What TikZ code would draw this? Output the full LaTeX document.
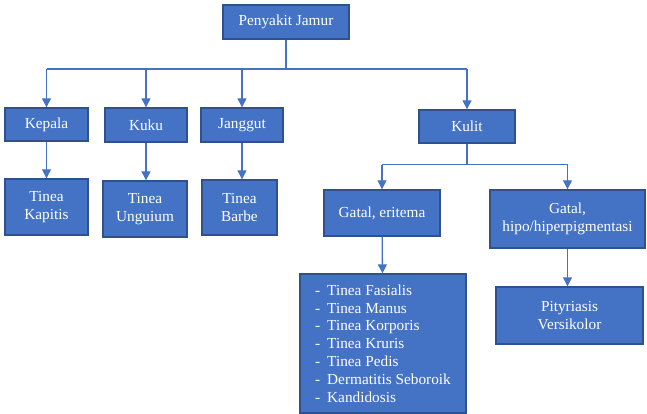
\documentclass[tikz,border=0pt]{standalone}
\usepackage{fontspec}
\setmainfont{Liberation Serif}
\usetikzlibrary{arrows.meta}
\definecolor{boxfill}{HTML}{4472C4}
\definecolor{boxline}{HTML}{2F528F}
\definecolor{linkcol}{HTML}{4472C4}
\newcommand{\itm}[1]{\makebox[12pt][l]{-}#1}
\begin{document}
\begin{tikzpicture}[x=1pt,y=-1pt,
  box/.style={draw=boxline, fill=boxfill, line width=1.4pt, text=white,
    inner sep=0pt, align=center,
    font=\fontsize{15.3}{17.8}\selectfont},
  link/.style={draw=linkcol, line width=1.3pt},
  arr/.style={link, -{Triangle[length=9pt,width=9pt]}}]
\useasboundingbox (0,0) rectangle (647,414);

% top level
\node[box, minimum width=126pt, minimum height=34pt] (root) at (286,22) {Penyakit Jamur};

% body parts
\node[box, minimum width=83pt, minimum height=33pt] (kepala) at (46.5,124.5) {Kepala};
\node[box, minimum width=82pt, minimum height=34pt] (kuku) at (146,125) {Kuku};
\node[box, minimum width=82pt, minimum height=34pt] (janggut) at (242,125) {Janggut};
\node[box, minimum width=96pt, minimum height=33pt] (kulit) at (467,126.5) {Kulit};

% head, nail, beard infections
\node[box, minimum width=83pt, minimum height=56pt] (kapitis) at (46.5,207) {Tinea\\Kapitis};
\node[box, minimum width=84pt, minimum height=56pt] (unguium) at (145,209) {Tinea\\Unguium};
\node[box, minimum width=75pt, minimum height=55pt] (barbe) at (239.5,207.5) {Tinea\\Barbe};

% skin symptoms
\node[box, minimum width=116pt, minimum height=46pt] (eritema) at (382,213) {Gatal, eritema};
\node[box, minimum width=155pt, minimum height=58pt] (hipo) at (567.5,219) {Gatal,\\hipo/hiperpigmentasi};

% skin infections
\node[box, minimum width=166pt, minimum height=139pt, align=left] (daftar) at (383,343.5)
  {\itm{Tinea Fasialis}\\\itm{Tinea Manus}\\\itm{Tinea Korporis}\\\itm{Tinea Kruris}\\
   \itm{Tinea Pedis}\\\itm{Dermatitis Seboroik}\\\itm{Kandidosis}};
\node[box, minimum width=147pt, minimum height=57pt] (pity) at (569.5,315.5) {Pityriasis\\Versikolor};

% branching from the root
\coordinate (busA) at (0,69);
\draw[link] (root.south) -- (root.south |- busA);
\draw[link] (kepala.north |- busA) -- (kulit.north |- busA);
\foreach \n in {kepala,kuku,janggut,kulit}
  \draw[arr] (\n.north |- busA) -- (\n.north);

% branching from Kulit
\coordinate (busB) at (0,164.7);
\draw[link] (kulit.south) -- (kulit.south |- busB);
\draw[link] (eritema.north |- busB) -- (hipo.north |- busB);
\foreach \n in {eritema,hipo}
  \draw[arr] (\n.north |- busB) -- (\n.north);

% straight links
\draw[arr] (kepala) -- (kapitis);
\draw[arr] (kuku.south) -- (kuku.south |- unguium.north);
\draw[arr] (janggut.south) -- (janggut.south |- barbe.north);
\draw[arr] (eritema) -- (daftar);
\draw[arr] (hipo.south) -- (hipo.south |- pity.north);
\end{tikzpicture}
\end{document}
